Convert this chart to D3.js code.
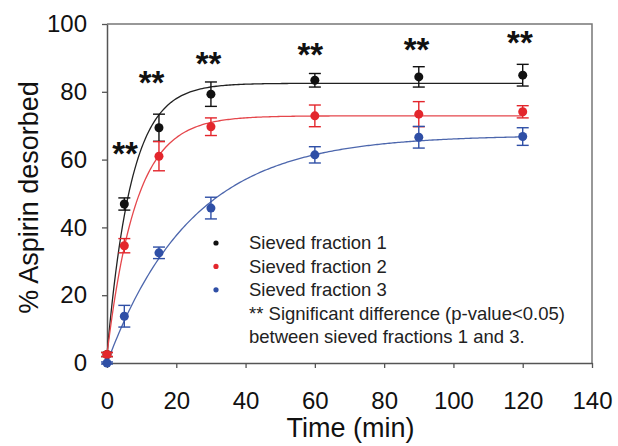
<!DOCTYPE html>
<html>
<head>
<meta charset="utf-8">
<script src="https://cdn.jsdelivr.net/npm/d3@7"></script>
<style>
  html, body { margin: 0; padding: 0; background: #fff; }
  svg { display: block; font-family: "Liberation Sans", Arial, sans-serif; }
</style>
</head>
<body>
<svg id="chart" width="618" height="446"></svg>
<script>
// Sampling times (min)
const times = [0, 5, 15, 30, 60, 90, 120];

// Mean % aspirin desorbed per sieved fraction
const fraction1 = [2.5, 46.9, 69.4, 79.3, 83.4, 84.4, 84.9];
const fraction2 = [2.5, 34.6, 61.0, 69.7, 72.9, 73.4, 74.1];
const fraction3 = [0.0, 13.8, 32.5, 45.7, 61.4, 66.6, 66.8];

// Standard deviations
const sd1 = [0.6, 1.8, 4.0, 3.6, 2.0, 3.0, 3.2];
const sd2 = [0.6, 2.1, 4.3, 2.6, 3.2, 3.7, 1.8];
const sd3 = [0.3, 3.2, 1.7, 3.2, 2.4, 3.2, 2.6];

// First-order fit y = y0 + (ymax - y0)(1 - e^(-k t)) for each fraction
const fitStart   = [2.5, 2.5, 0];
const fitPlateau = [82.5, 72.9, 67.2];
const fitRate    = [0.1436, 0.1197, 0.041];

const seriesNames  = ["Sieved fraction 1", "Sieved fraction 2", "Sieved fraction 3"];
const seriesColors = ["#111111", "#e3262c", "#2f4fa6"];
const curveColors  = ["#222222", "#e5474c", "#4d67ad"];

// Significance markers: anchor (time, %) for each "**" label
const starTimes  = [5.2, 12.85, 29.3, 58.7, 89.35, 119.2];
const starLevels = [64.0, 84.9, 90.4, 93.1, 94.5, 96.5];

const noteLines = ["** Significant difference (p-value<0.05)",
                   "between sieved fractions 1 and 3."];

const xTicks = [0, 20, 40, 60, 80, 100, 120, 140];
const yTicks = [0, 20, 40, 60, 80, 100];

const svg = d3.select("#chart");
const plotLeft = 107, plotRight = 592, plotTop = 24, plotBottom = 363;

const x = d3.scaleLinear().domain([0, 140]).range([plotLeft, plotRight]);
const y = d3.scaleLinear().domain([0, 100]).range([plotBottom, plotTop]);

const axisColor = "#555";

// Frame (top and right edges)
svg.append("path")
  .attr("d", `M${plotLeft},${plotTop}H${plotRight}V${plotBottom}`)
  .attr("fill", "none").attr("stroke", "#777").attr("stroke-width", 1.5);

// Axes
const xAxis = svg.append("g")
  .attr("transform", `translate(0,${plotBottom})`)
  .call(d3.axisBottom(x).tickValues(xTicks).tickSizeInner(5).tickSizeOuter(0).tickPadding(24));
const yAxis = svg.append("g")
  .attr("transform", `translate(${plotLeft},0)`)
  .call(d3.axisLeft(y).tickValues(yTicks).tickSizeInner(5).tickSizeOuter(0).tickPadding(15));

[xAxis, yAxis].forEach(g => {
  g.select(".domain").attr("stroke", axisColor).attr("stroke-width", 1.5);
  g.selectAll(".tick line").attr("stroke", axisColor).attr("stroke-width", 1.3);
  g.selectAll(".tick text")
    .attr("fill", "#111")
    .style("font-family", "'Liberation Sans', Arial, sans-serif")
    .style("font-size", "24px");
});

// Axis titles
svg.append("text")
  .attr("x", (plotLeft + plotRight) / 2 + 1).attr("y", 437)
  .attr("text-anchor", "middle")
  .attr("font-size", 27).attr("fill", "#111")
  .text("Time (min)");

svg.append("text")
  .attr("transform", `translate(38,${(plotTop + plotBottom) / 2 + 4}) rotate(-90)`)
  .attr("text-anchor", "middle")
  .attr("font-size", 27).attr("fill", "#111")
  .text("% Aspirin desorbed");

// Fitted curves
const curveTimes = d3.range(0, 120.5, 0.5);
const line = d3.line().x(d => x(d[0])).y(d => y(d[1])).curve(d3.curveLinear);
[0, 1, 2].forEach(i => {
  const pts = curveTimes.map(t => [t, fitStart[i] + (fitPlateau[i] - fitStart[i]) * (1 - Math.exp(-fitRate[i] * t))]);
  svg.append("path")
    .attr("d", line(pts))
    .attr("fill", "none")
    .attr("stroke", curveColors[i])
    .attr("stroke-width", 1.3);
});

// Data points with error bars
const allSeries = [fraction1, fraction2, fraction3];
const allSd = [sd1, sd2, sd3];
const cap = 6;
[0, 1, 2].forEach(i => {
  const g = svg.append("g").attr("stroke", seriesColors[i]).attr("fill", seriesColors[i]);
  times.forEach((t, j) => {
    const v = allSeries[i][j], s = allSd[i][j];
    const cx = x(t);
    g.append("line").attr("x1", cx).attr("x2", cx).attr("y1", y(v - s)).attr("y2", y(v + s)).attr("stroke-width", 1.4);
    g.append("line").attr("x1", cx - cap).attr("x2", cx + cap).attr("y1", y(v + s)).attr("y2", y(v + s)).attr("stroke-width", 1.4);
    g.append("line").attr("x1", cx - cap).attr("x2", cx + cap).attr("y1", y(v - s)).attr("y2", y(v - s)).attr("stroke-width", 1.4);
    g.append("circle").attr("cx", cx).attr("cy", y(v)).attr("r", 4.5).attr("stroke", "none");
  });
});

// Significance stars
starTimes.forEach((t, j) => {
  svg.append("text")
    .attr("x", x(t)).attr("y", y(starLevels[j]))
    .attr("dy", "0.56em")
    .attr("text-anchor", "middle")
    .attr("font-size", 33).attr("font-weight", "bold").attr("fill", "#111")
    .text("**");
});

// Legend
const legX = 216, legTextX = 249, legY0 = 243, legStep = 23.4;
seriesNames.forEach((name, i) => {
  svg.append("circle").attr("cx", legX).attr("cy", legY0 + i * legStep).attr("r", 2.6).attr("fill", seriesColors[i]);
  svg.append("text").attr("x", legTextX).attr("y", legY0 + i * legStep).attr("dy", "0.35em")
    .attr("font-size", 18.5).attr("fill", "#222").text(name);
});
noteLines.forEach((ln, k) => {
  svg.append("text").attr("x", legTextX).attr("y", legY0 + (3 + k) * legStep).attr("dy", "0.35em")
    .attr("font-size", 18.5).attr("fill", "#222").text(ln);
});
</script>
</body>
</html>
